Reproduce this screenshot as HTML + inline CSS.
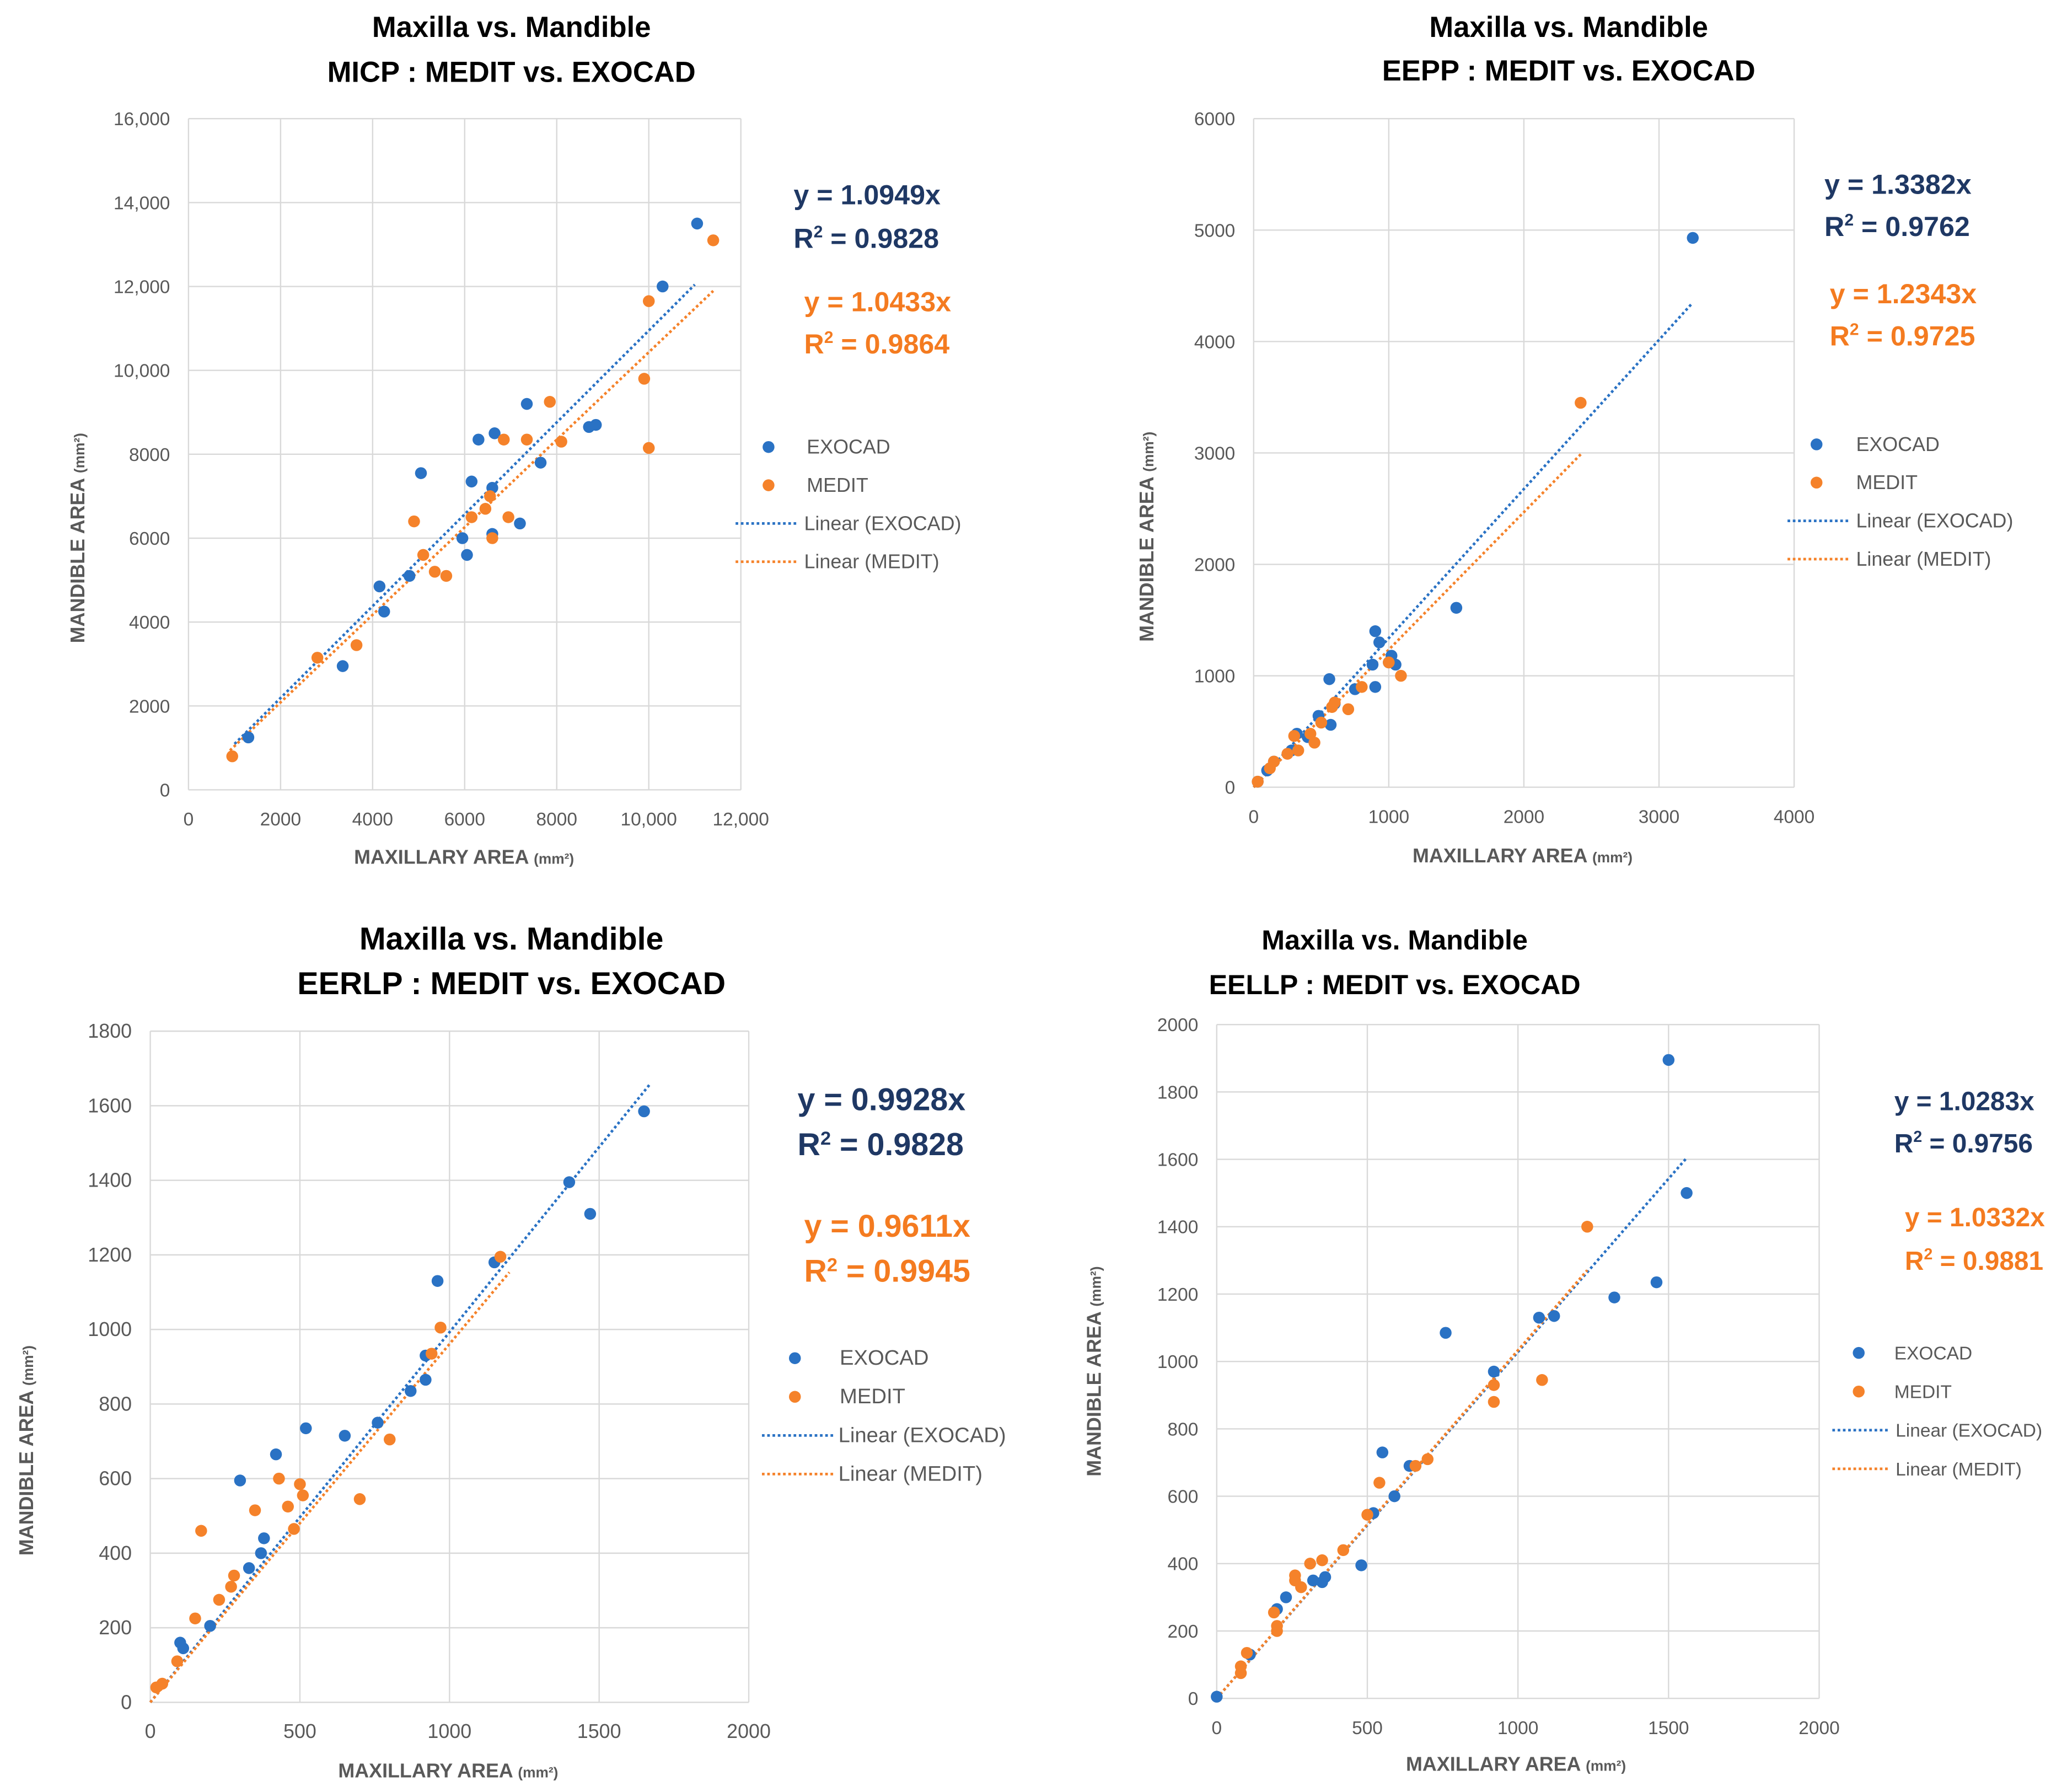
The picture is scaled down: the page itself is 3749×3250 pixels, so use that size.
<!DOCTYPE html>
<html><head><meta charset="utf-8"><style>
html,body{margin:0;padding:0;background:#fff}
svg{display:block;font-family:"Liberation Sans",Calibri,sans-serif}
</style></head><body>
<svg id="s" xmlns="http://www.w3.org/2000/svg" width="3749" height="3250" viewBox="0 0 1568 1359" preserveAspectRatio="none"></svg>
<script>
// ---- Chart 1: MICP ----
const c1Xticks=["0","2000","4000","6000","8000","10,000","12,000"];
const c1Yticks=["0","2000","4000","6000","8000","10,000","12,000","14,000","16,000"];
const c1ExoX=[1300,3350,4150,4250,4800,5050,5950,6050,6150,6300,6650,6600,6600,7200,7350,7650,8700,8850,10300,11050];
const c1ExoY=[1250,2950,4850,4250,5100,7550,6000,5600,7350,8350,8500,7200,6100,6350,9200,7800,8650,8700,12000,13500];
const c1MedX=[950,2800,3650,4900,5100,5350,5600,6150,6450,6550,6600,6850,6950,7350,7850,8100,9900,10000,10000,11400];
const c1MedY=[800,3150,3450,6400,5600,5200,5100,6500,6700,7000,6000,8350,6500,8350,9250,8300,9800,8150,11650,13100];
const c1Slopes=[1.0949,1.0433];
const c1TrendX=[[1000,11000],[900,11400]];
// ---- Chart 2: EEPP ----
const c2Xticks=["0","1000","2000","3000","4000"];
const c2Yticks=["0","1000","2000","3000","4000","5000","6000"];
const c2ExoX=[3250,1500,900,930,1020,1050,900,880,560,570,600,480,750,320,280,150,100,30,400,1000];
const c2ExoY=[4930,1610,1400,1300,1180,1100,900,1100,970,560,750,640,880,480,330,230,150,50,450,1120];
const c2MedX=[2420,1090,1000,700,800,580,500,450,330,300,120,150,30,250,420,600];
const c2MedY=[3450,1000,1120,700,900,720,580,400,330,460,170,230,50,300,480,760];
const c2Slopes=[1.3382,1.2343];
const c2TrendX=[[0,3250],[0,2430]];
// ---- Chart 3: EERLP ----
const c3Xticks=["0","500","1000","1500","2000"];
const c3Yticks=["0","200","400","600","800","1000","1200","1400","1600","1800"];
const c3ExoX=[1650,1400,1470,960,1150,920,920,870,760,650,520,420,300,380,370,330,200,100,110];
const c3ExoY=[1585,1395,1310,1130,1180,930,865,835,750,715,735,665,595,440,400,360,205,160,145];
const c3MedX=[1170,970,940,800,700,500,430,460,510,480,350,170,150,270,280,230,90,40,20];
const c3MedY=[1195,1005,935,705,545,585,600,525,555,465,515,460,225,310,340,275,110,50,40];
const c3Slopes=[0.9928,0.9611];
const c3TrendX=[[0,1670],[0,1200]];
// ---- Chart 4: EELLP ----
const c4Xticks=["0","500","1000","1500","2000"];
const c4Yticks=["0","200","400","600","800","1000","1200","1400","1600","1800","2000"];
const c4ExoX=[1500,1560,1460,1320,1120,1070,760,920,550,640,590,520,480,360,350,320,230,200,110,0];
const c4ExoY=[1895,1500,1235,1190,1135,1130,1085,970,730,690,600,550,395,360,345,350,300,265,130,5];
const c4MedX=[1230,1080,920,920,700,660,540,500,420,350,310,260,260,280,190,200,200,100,80,80];
const c4MedY=[1400,945,930,880,710,690,640,545,440,410,400,365,350,330,255,215,200,135,95,75];
const c4Slopes=[1.0283,1.0332];
const c4TrendX=[[0,1560],[0,1230]];

const NS="http://www.w3.org/2000/svg";
const svg=document.getElementById('s');
const BLUE="#2a72c4",ORANGE="#f5822a",NAVY="#1f3864",EQOR="#f47b20",GRAY="#595959";
function mk(tag,attrs,parent){const e=document.createElementNS(NS,tag);for(const k in attrs)e.setAttribute(k,attrs[k]);(parent||svg).appendChild(e);return e;}
function txt(parent,x,y,s,opt){const t=mk('text',Object.assign({x:x,y:y},opt||{}),parent);t.textContent=s;return t;}

const charts=[
 {id:'micp',t1:"Maxilla vs. Mandible",t2:"MICP : MEDIT vs. EXOCAD",tx:388,ty:[28,62],ts:22,
  L:143,R:562,B:599,T:90,xmax:12000,ymax:16000,xt:c1Xticks,yt:c1Yticks,
  ex:c1ExoX,ey:c1ExoY,mx:c1MedX,my:c1MedY,sl:c1Slopes,tr:c1TrendX,
  eq:[602,155,188,610,236,268],eqs:21,lg:[583,612,339,29,558,606],lfs:15,
  xtl:[352,655],ytl:[64,408],tfs:14},
 {id:'eepp',t1:"Maxilla vs. Mandible",t2:"EEPP : MEDIT vs. EXOCAD",tx:1190,ty:[28,61],ts:22,
  L:951,R:1361,B:597,T:90,xmax:4000,ymax:6000,xt:c2Xticks,yt:c2Yticks,
  ex:c2ExoX,ey:c2ExoY,mx:c2MedX,my:c2MedY,sl:c2Slopes,tr:c2TrendX,
  eq:[1384,147,179,1388,230,262],eqs:21,lg:[1378,1408,337,29,1356,1404],lfs:15,
  xtl:[1155,654],ytl:[875,407],tfs:14},
 {id:'eerlp',t1:"Maxilla vs. Mandible",t2:"EERLP : MEDIT vs. EXOCAD",tx:388,ty:[720,754],ts:24,
  L:114,R:568,B:1291,T:782,xmax:2000,ymax:1800,xt:c3Xticks,yt:c3Yticks,
  ex:c3ExoX,ey:c3ExoY,mx:c3MedX,my:c3MedY,sl:c3Slopes,tr:c3TrendX,
  eq:[605,842,876,610,938,972],eqs:24,lg:[603,637,1030,29.3,578,632],lfs:16,
  xtl:[340,1348],ytl:[25,1100],tfs:15},
 {id:'eellp',t1:"Maxilla vs. Mandible",t2:"EELLP : MEDIT vs. EXOCAD",tx:1058,ty:[720,754],ts:21,
  L:923,R:1380,B:1288,T:777,xmax:2000,ymax:2000,xt:c4Xticks,yt:c4Yticks,
  ex:c4ExoX,ey:c4ExoY,mx:c4MedX,my:c4MedY,sl:c4Slopes,tr:c4TrendX,
  eq:[1437,842,874,1445,930,963],eqs:20,lg:[1410,1437,1026,29.3,1390,1434],lfs:14,
  xtl:[1150,1343],ytl:[835,1040],tfs:14}
];

charts.forEach(c=>{
  const g=mk('g',{});
  
  
  const sx=v=>c.L+(v/c.xmax)*(c.R-c.L);
  const sy=v=>c.B-(v/c.ymax)*(c.B-c.T);
  // title
  const t1=txt(g,c.tx,c.ty[0],c.t1,{'text-anchor':'middle','font-weight':'bold','font-size':c.ts,fill:'#000'});
  
  
  const t2=txt(g,c.tx,c.ty[1],c.t2,{'text-anchor':'middle','font-weight':'bold','font-size':c.ts,fill:'#000'});
  
  
  // grid
  const nx=c.xt.length-1, ny=c.yt.length-1;
  c.xt.forEach((lab,i)=>{
    const x=sx(c.xmax*i/nx);
    const l=mk('line',{x1:x,x2:x,y1:c.T,y2:c.B,stroke:'#d9d9d9','stroke-width':1},g);
    
    
    const t=txt(g,x,c.B+27,lab,{'text-anchor':'middle','font-size':c.tfs,fill:GRAY});
    
    
  });
  c.yt.forEach((lab,i)=>{
    const y=sy(c.ymax*i/ny);
    const l=mk('line',{x1:c.L,x2:c.R,y1:y,y2:y,stroke:'#d9d9d9','stroke-width':1},g);
    
    
    const t=txt(g,c.L-14,y+5,lab,{'text-anchor':'end','font-size':c.tfs,fill:GRAY});
    
    
  });
  // axis titles
  const xt=mk('text',{x:c.xtl[0],y:c.xtl[1],'text-anchor':'middle','font-weight':'bold','font-size':15,fill:GRAY},g);
  xt.innerHTML='MAXILLARY AREA <tspan font-size="11">(mm²)</tspan>';
  
  
  const yt=mk('text',{x:0,y:0,'text-anchor':'middle','font-weight':'bold','font-size':15,fill:GRAY,transform:`translate(${c.ytl[0]},${c.ytl[1]}) rotate(-90)`},g);
  yt.innerHTML='MANDIBLE  AREA <tspan font-size="11">(mm²)</tspan>';
  
  
  // trendlines
  [[BLUE,0],[ORANGE,1]].forEach(([col,k])=>{
    const [a,b]=c.tr[k];
    const l=mk('line',{x1:sx(a),y1:sy(a*c.sl[k]),x2:sx(b),y2:sy(b*c.sl[k]),stroke:col,'stroke-width':2,'stroke-dasharray':'2 2'},g);
    
    
  });
  // points
  c.ex.forEach((v,i)=>{
    const p=mk('circle',{cx:sx(v),cy:sy(c.ey[i]),r:4.5,fill:BLUE},g);
    
    
  });
  c.mx.forEach((v,i)=>{
    const p=mk('circle',{cx:sx(v),cy:sy(c.my[i]),r:4.5,fill:ORANGE},g);
    
    
  });
  // equations
  const e=c.eq;
  const eqs=[[e[0],e[1],'y = '+c.sl[0]+'x',NAVY],[e[0],e[2],null,NAVY],[e[3],e[4],'y = '+c.sl[1]+'x',EQOR],[e[3],e[5],null,EQOR]];
  const r2=[c.id==='micp'?'0.9828':c.id==='eepp'?'0.9762':c.id==='eerlp'?'0.9828':'0.9756',
            c.id==='micp'?'0.9864':c.id==='eepp'?'0.9725':c.id==='eerlp'?'0.9945':'0.9881'];
  eqs.forEach((q,i)=>{
    const t=mk('text',{x:q[0],y:q[1],'font-weight':'bold','font-size':c.eqs,fill:q[3]},g);
    if(q[2]) t.textContent=q[2]; else t.innerHTML='R<tspan dy="-8" font-size="'+(c.eqs*0.6)+'">2</tspan><tspan dy="8"> = '+r2[i>1?1:0]+'</tspan>';
    
    
  });
  // legend
  const lg=c.lg;
  const labels=['EXOCAD','MEDIT','Linear (EXOCAD)','Linear (MEDIT)'];
  labels.forEach((s,i)=>{
    const y=lg[2]+i*lg[3];
    const col=i%2?ORANGE:BLUE;
    if(i<2){const d=mk('circle',{cx:lg[0],cy:y,r:4.5,fill:col},g);
      
      }
    else{const d=mk('line',{x1:lg[4],x2:lg[5],y1:y,y2:y,stroke:col,'stroke-width':2,'stroke-dasharray':'2 2'},g);
      
      }
    const t=txt(g,i<2?lg[1]:lg[5]+4,y+5,s,{'font-size':c.lfs,fill:GRAY});
    
    
  });
});
</script>
</body></html>
